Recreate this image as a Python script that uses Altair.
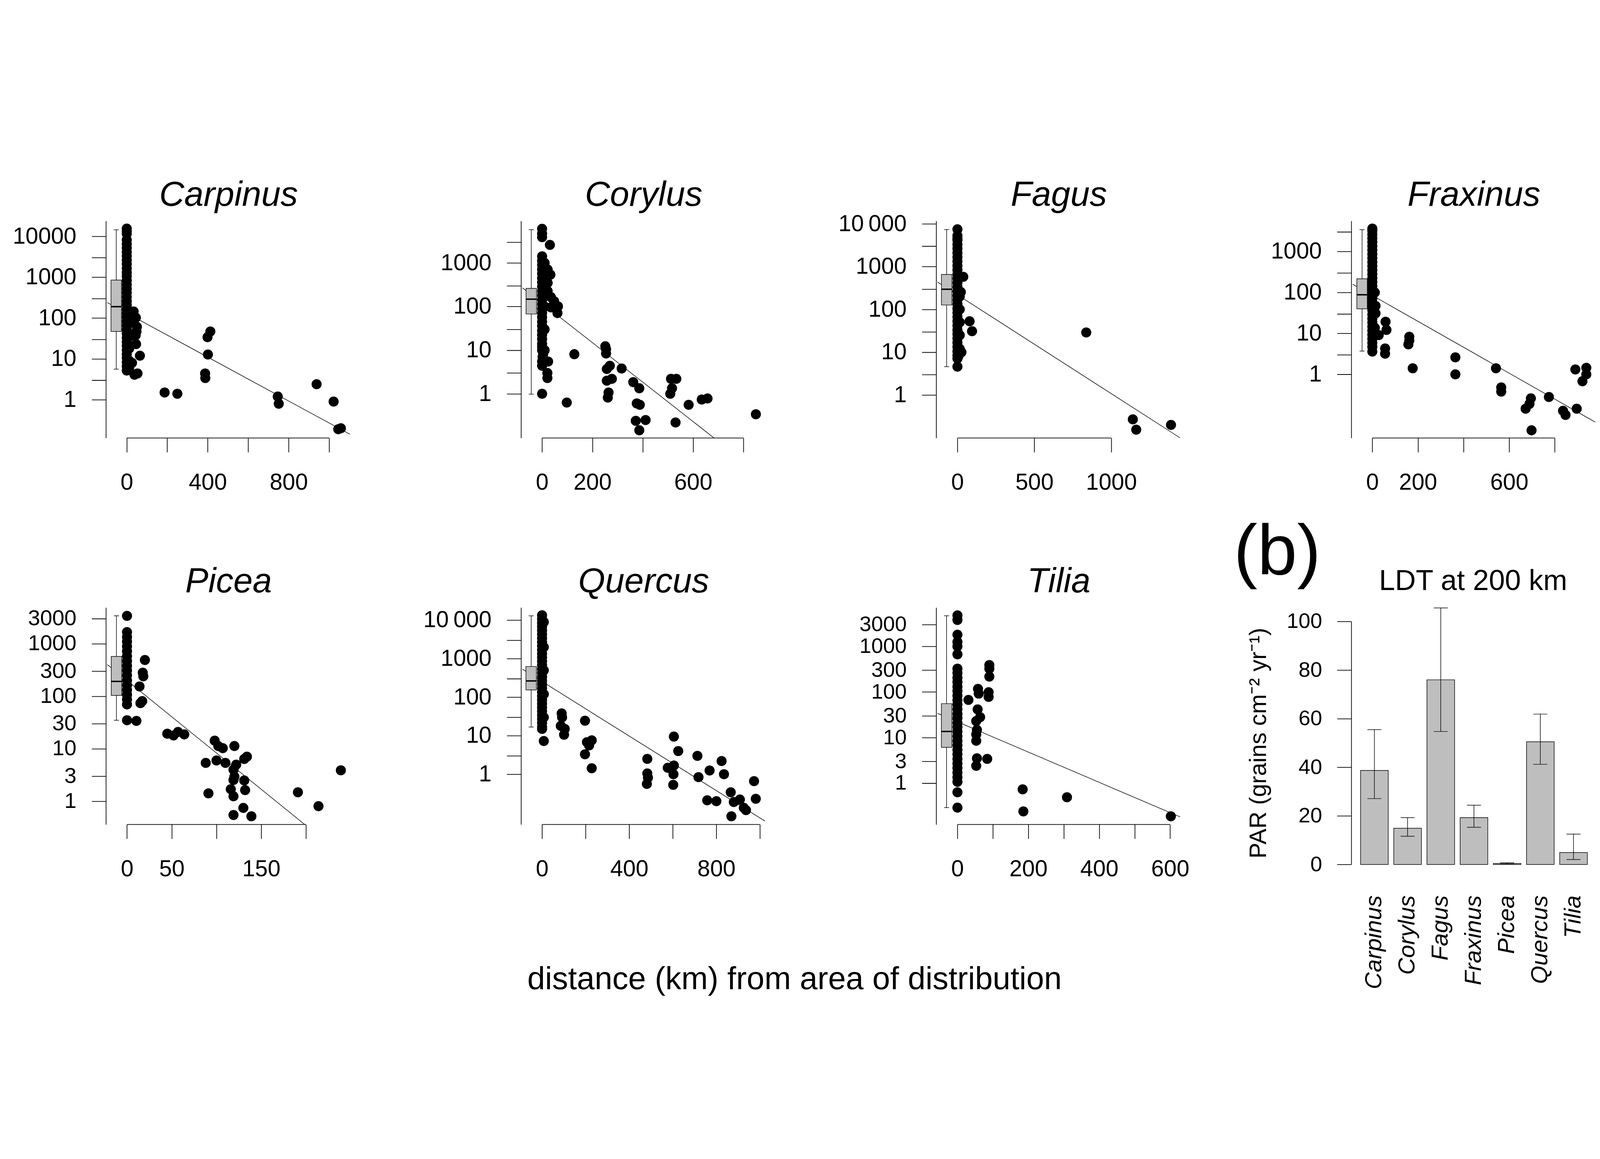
import altair as alt
import pandas as pd

FONT = "Liberation Sans"

taxa = ["Carpinus", "Corylus", "Fagus", "Fraxinus", "Picea", "Quercus", "Tilia"]

# ---------------- (a) scatter data: (distance km, PAR) ----------------
carpinus_pts = [
    (0, 15500), (0, 13300), (0, 11600), (0, 8200), (0, 6500), (0, 5200), (0, 4100), (0, 3300),
    (0, 2600), (0, 2100), (0, 1650), (0, 1300), (0, 1050), (0, 830), (0, 660), (0, 520), (0, 420),
    (0, 330), (0, 260), (0, 210), (0, 165), (0, 130), (0, 105), (0, 83), (0, 66), (0, 52), (0, 42),
    (0, 33), (0, 26), (0, 21), (0, 16.5), (0, 13), (0, 10.5), (0, 8.3), (0, 6.6), (0, 5.2),
    (12, 150), (12, 75), (12, 35), (12, 18), (12, 9), (12, 6),
    (34, 145), (45, 102), (50, 61), (48, 47), (44, 38), (46, 23), (65, 12), (53, 4.4), (38, 4.1), (26, 8),
    (187, 1.5), (250, 1.4), (413, 47), (399, 34), (401, 12.8), (387, 4.4), (388, 3.4), (746, 1.2),
    (751, 0.8), (938, 2.4), (1022, 0.9), (1045, 0.19), (1058, 0.2)]

corylus_pts = [
    (0, 6100), (0, 4700), (0, 3900), (0, 1420), (0, 1130), (0, 900), (0, 710), (0, 570), (0, 450),
    (0, 360), (0, 285), (0, 225), (0, 180), (0, 143), (0, 113), (0, 90), (0, 71), (0, 57), (0, 45),
    (0, 36), (0, 28), (0, 22.5), (0, 18), (0, 14), (0, 12), (0, 10), (2, 7), (0, 5.5), (0, 4.4), (0, 1.0),
    (10, 1000), (10, 300), (10, 100), (10, 30), (10, 10),
    (4, 8), (31, 2600), (22, 710), (33, 540), (22, 350), (22, 227), (35, 165), (48, 132), (63, 101),
    (35, 96), (61, 71), (24, 5.5), (21, 3.0), (21, 2.3),
    (128, 8.1), (98, 0.63), (251, 12.3), (254, 10.5), (254, 8.4), (269, 4.4), (257, 3.7), (277, 2.2),
    (257, 2.0), (264, 1.07), (261, 0.82), (316, 3.8), (362, 1.85), (386, 1.34), (376, 0.6), (388, 0.56),
    (372, 0.24), (411, 0.25), (386, 0.146), (512, 2.2), (533, 2.2), (516, 1.34), (509, 1.0), (530, 0.22),
    (582, 0.56), (634, 0.74), (657, 0.78), (849, 0.34)]

fagus_pts = [
    (0, 7500), (0, 5300), (0, 4500), (0, 4200), (0, 3300), (0, 2650), (0, 2100), (0, 1670), (0, 1330),
    (0, 1050), (0, 840), (0, 665), (0, 530), (0, 420), (0, 335), (0, 265), (0, 210), (0, 167), (0, 133),
    (0, 105), (0, 84), (0, 67), (0, 53), (0, 42), (0, 33), (0, 26.5), (0, 21), (0, 16.7), (0, 13.3),
    (0, 10.5), (0, 8.4), (0, 7.1), (0, 4.6),
    (15, 200), (15, 100), (15, 50), (15, 25), (15, 12),
    (38, 580), (22, 255), (79, 53), (95, 31), (26, 10), (6, 8),
    (837, 29), (1140, 0.27), (1162, 0.155), (1388, 0.2)]

fraxinus_pts = [
    (0, 3630), (0, 3200), (0, 2600), (0, 2100), (0, 1700), (0, 1350), (0, 1080), (0, 860), (0, 690),
    (0, 550), (0, 440), (0, 350), (0, 280), (0, 225), (0, 180), (0, 143), (0, 115), (0, 90), (0, 72),
    (0, 58), (0, 46), (0, 37), (0, 29), (0, 23), (0, 18.5), (0, 14.7), (0, 11.7), (0, 9.3), (0, 7.4),
    (0, 5.9), (0, 4.7), (0, 3.6),
    (11, 100), (14, 47), (14, 31), (11, 13.7), (28, 9.1), (58, 19.3), (62, 12.2), (56, 4.3), (56, 3.2),
    (162, 8.3), (162, 6.7), (158, 5.4), (177, 1.41), (364, 2.6), (364, 1.0), (542, 1.41), (565, 0.48),
    (565, 0.38), (695, 0.26), (689, 0.19), (672, 0.145), (698, 0.043), (774, 0.28), (836, 0.129),
    (847, 0.102), (896, 0.145), (890, 1.32), (938, 1.45), (938, 1.0), (921, 0.68)]

picea_pts = [
    (0, 3400), (0, 1670), (0, 1350), (0, 1100), (0, 890), (0, 720), (0, 580), (0, 470), (0, 380),
    (0, 310), (0, 250), (0, 200), (0, 163), (0, 132), (0, 107), (0, 87), (0, 70), (0, 35),
    (10.5, 34), (20, 490), (17.6, 281), (18.2, 240), (14, 154), (17, 81), (15, 74),
    (45, 19.4), (52, 18), (57, 21), (64, 18.8), (98, 14.3), (102, 11.3), (107, 10.3), (120, 11.3),
    (88, 5.4), (100, 6.0), (110, 5.4), (122, 5.0), (119, 4.0), (120, 2.95), (119, 2.55), (131, 6.4),
    (134, 7.1), (131, 2.5), (116, 1.7), (119, 1.25), (132, 1.64), (91, 1.42), (130, 0.75), (119, 0.55),
    (139, 0.52), (191, 1.49), (214, 0.81), (239, 3.9)]

quercus_pts = [
    (0, 13400), (0, 10700), (0, 8500), (0, 6800), (0, 5400), (0, 4300), (0, 3400), (0, 2700), (0, 2150),
    (0, 1700), (0, 1350), (0, 1080), (0, 860), (0, 680), (0, 540), (0, 430), (0, 340), (0, 270), (0, 215),
    (0, 170), (0, 135), (0, 108), (0, 86), (0, 68), (0, 54), (0, 43), (0, 34), (0, 27), (0, 21.5), (0, 17),
    (0, 15),
    (8, 9000), (8, 2000), (8, 500), (8, 120), (8, 30), (8, 7.3),
    (90, 38), (92, 30), (86, 18), (104, 15), (101, 10.6), (197, 24.6), (206, 6.8), (216, 5.6), (228, 7.6),
    (197, 3.3), (228, 1.43), (483, 2.5), (483, 1.05), (486, 0.81), (481, 0.56), (605, 9.5), (625, 4.0),
    (577, 1.47), (605, 1.68), (603, 1.0), (602, 0.53), (713, 3.0), (718, 0.84), (769, 1.25), (824, 2.2),
    (835, 1.0), (758, 0.21), (800, 0.2), (866, 0.34), (880, 0.19), (908, 0.22), (926, 0.134), (936, 0.117),
    (869, 0.081), (973, 0.66), (981, 0.23)]

tilia_pts = [
    (0, 4800), (0, 3800), (0, 1800), (0, 1250), (0, 1000), (0, 670), (0, 324), (0, 260), (0, 205),
    (0, 165), (0, 130), (0, 105), (0, 83), (0, 66), (0, 53), (0, 42), (0, 33), (0, 27), (0, 21), (0, 17),
    (0, 13.5), (0, 10.7), (0, 8.5), (0, 6.8), (0, 5.4), (0, 4.3), (0, 3.4), (0, 2.7), (0, 2.15), (0, 1.7),
    (0, 1.35), (0, 1.07), (0, 0.63), (0, 0.29),
    (31, 67), (58, 117), (60, 92), (57, 41.5), (64, 28), (53, 23), (55, 14.7), (53, 11.7), (53, 8.5),
    (55, 3.5), (53, 2.4), (90, 390), (90, 324), (90, 218), (88, 99), (88, 78), (84, 3.4),
    (184, 0.73), (186, 0.24), (309, 0.49), (602, 0.187)]

points = [carpinus_pts, corylus_pts, fagus_pts, fraxinus_pts, picea_pts, quercus_pts, tilia_pts]

# boxplot stats: position (km), whisker low, q1, median, q3, whisker high
box_km = [-52, -43, -70, -45, -11.8, -50, -30.6]
box_wlo = [5.6, 0.98, 4.6, 3.7, 35, 16.8, 0.29]
box_q1 = [47, 67.6, 127, 40, 104, 155, 6.1]
box_med = [190, 148, 297, 88, 192, 265, 13.6]
box_q3 = [850, 262, 660, 216, 573, 630, 55.5]
box_whi = [14500, 5800, 7400, 3430, 3400, 13000, 4700]

# regression log10(PAR) = a + b * km
fit_a = [2.12, 2.077, 2.342, 1.928, 2.30, 2.409, 1.345]
fit_b = [-0.00269, -0.004526, -0.00231, -0.003166, -0.0138, -0.003544, -0.003321]

# plot extents
x_domains = [[-96, 1102], [-78, 885], [-129, 1447], [-86, 977], [-22, 249], [-90, 1023], [-56, 628]]
y_domains = [[0.1155, 23770], [0.0968, 9170], [0.0989, 11670], [0.0279, 5560],
             [0.3625, 4890], [0.0494, 21340], [0.1236, 7120]]

x_ticks = [[0, 200, 400, 600, 800, 1000], [0, 200, 400, 600, 800], [0, 500, 1000],
           [0, 200, 400, 600, 800], [0, 50, 100, 150, 200], [0, 200, 400, 600, 800, 1000],
           [0, 100, 200, 300, 400, 500, 600]]
x_labels = [["0", "", "400", "", "800", ""], ["0", "200", "", "600", ""], ["0", "500", "1000"],
            ["0", "200", "", "600", ""], ["0", "50", "", "150", ""], ["0", "", "400", "", "800", ""],
            ["0", "", "200", "", "400", "", "600"]]
y_ticks = [[1, 3, 10, 30, 100, 300, 1000, 3000, 10000], [1, 3, 10, 30, 100, 300, 1000, 3000],
           [1, 3, 10, 30, 100, 300, 1000, 3000, 10000], [1, 3, 10, 30, 100, 300, 1000, 3000],
           [1, 3, 10, 30, 100, 300, 1000, 3000], [1, 3, 10, 30, 100, 300, 1000, 3000, 10000],
           [1, 3, 10, 30, 100, 300, 1000, 3000]]
y_labels = [["1", "", "10", "", "100", "", "1000", "", "10000"],
            ["1", "", "10", "", "100", "", "1000", ""],
            ["1", "", "10", "", "100", "", "1000", "", "10\u2009000"],
            ["1", "", "10", "", "100", "", "1000", ""],
            ["1", "3", "10", "30", "100", "300", "1000", "3000"],
            ["1", "", "10", "", "100", "", "1000", "", "10\u2009000"],
            ["1", "3", "10", "30", "100", "300", "1000", "3000"]]
y_label_size = [82, 82, 82, 82, 78, 82, 76]

# ---------------- (b) bar data ----------------
par_mean = [38.7, 14.9, 76.0, 19.3, 0.4, 50.5, 4.9]
par_lo = [27.1, 11.6, 54.7, 15.3, 0.1, 41.2, 2.0]
par_hi = [55.5, 19.3, 105.6, 24.4, 0.7, 61.9, 12.5]

W, H = 878, 777
BOXW = 37.5
GREY = "#BEBEBE"


def label_expr(vals, texts):
    expr = "''"
    for v, t in reversed(list(zip(vals, texts))):
        expr = f"datum.value == {v} ? '{t}' : {expr}"
    return expr


def scatter(i, extra_text=None):
    name = taxa[i]
    df = pd.DataFrame(points[i], columns=["km", "par"])
    xdom, ydom = x_domains[i], y_domains[i]
    xs = alt.Scale(domain=xdom, nice=False, zero=False)
    ys = alt.Scale(type="log", domain=ydom, nice=False)
    xax = alt.Axis(values=x_ticks[i], labelExpr=label_expr(x_ticks[i], x_labels[i]), domain=False,
                   grid=False, tickSize=51, tickWidth=2.5, labelFontSize=82, labelPadding=69,
                   labelFlush=False, labelOverlap=False, labelLimit=2000)
    yax = alt.Axis(values=y_ticks[i], labelExpr=label_expr(y_ticks[i], y_labels[i]), grid=False,
                   tickSize=51, tickWidth=2.5, domainWidth=2.5, labelFontSize=y_label_size[i],
                   labelPadding=55, labelFlush=False, labelOverlap=False, labelBaseline="middle",
                   labelLimit=2000)

    line_df = pd.DataFrame({"km": xdom,
                            "par": [10 ** (fit_a[i] + fit_b[i] * x) for x in xdom]})
    box_df = pd.DataFrame({"km": [box_km[i]], "lo": [box_wlo[i]], "q1": [box_q1[i]],
                           "med": [box_med[i]], "q3": [box_q3[i]], "hi": [box_whi[i]]})
    cap_df = pd.DataFrame({"km": [box_km[i], box_km[i]], "v": [box_wlo[i], box_whi[i]]})
    axis_df = pd.DataFrame({"x0": [x_ticks[i][0]], "x1": [x_ticks[i][-1]], "yb": [ydom[0]]})

    line = alt.Chart(line_df).mark_line(color="black", strokeWidth=2, clip=True).encode(
        x="km:Q", y="par:Q")
    whisk = alt.Chart(box_df).mark_rule(color="black", strokeWidth=2).encode(
        x="km:Q", y="lo:Q", y2="hi:Q")
    caps = alt.Chart(cap_df).mark_tick(orient="horizontal", size=18, thickness=2, color="black",
                                       opacity=1).encode(x="km:Q", y="v:Q")
    box = alt.Chart(box_df).mark_bar(orient="vertical", size=BOXW, fill=GREY, stroke="black",
                                     strokeWidth=2, opacity=1).encode(x="km:Q", y="q1:Q", y2="q3:Q")
    med = alt.Chart(box_df).mark_tick(orient="horizontal", size=BOXW, thickness=5, color="black",
                                      opacity=1).encode(x="km:Q", y="med:Q")
    pts = alt.Chart(df).mark_circle(size=1300, color="black", opacity=1).encode(
        x=alt.X("km:Q", scale=xs, axis=xax, title=None),
        y=alt.Y("par:Q", scale=ys, axis=yax, title=None))
    xline = alt.Chart(axis_df).mark_rule(color="black", strokeWidth=2.5).encode(
        x="x0:Q", x2="x1:Q", y="yb:Q")
    title = alt.Chart(pd.DataFrame({"t": [name]})).mark_text(
        font=FONT, fontSize=124, fontStyle="italic", align="center", baseline="alphabetic",
        color="black").encode(text="t:N", x=alt.value(W / 2), y=alt.value(-54))
    layers = [line, whisk, caps, box, med, pts, xline, title]
    if extra_text is not None:
        layers.append(extra_text)
    return alt.layer(*layers).properties(width=W, height=H)


bottom_title = alt.Chart(pd.DataFrame({"t": ["distance (km) from area of distribution"]})).mark_text(
    font=FONT, fontSize=114, align="center", baseline="alphabetic", color="black").encode(
    text="t:N", x=alt.value(979), y=alt.value(1366))

panels = [scatter(i, bottom_title if i == 5 else None) for i in range(7)]

# ---------------- bar chart ----------------
BH = 920
bar_df = pd.DataFrame({"taxon": taxa, "par": par_mean, "lo": par_lo, "hi": par_hi})
bx = alt.X("taxon:N", sort=taxa, title=None,
           scale=alt.Scale(paddingInner=0.167, paddingOuter=0.279),
           axis=alt.Axis(labelAngle=270, labelAlign="right", labelBaseline="middle",
                         labelFontStyle="italic", labelFontSize=84, labelPadding=110, ticks=False,
                         tickSize=0, domain=False, grid=False, labelOverlap=False, labelLimit=2000))
by = alt.Y("par:Q", title="PAR (grains cm\u207b\u00b2 yr\u207b\u00b9)",
           scale=alt.Scale(domain=[0, 100], range=[BH, 50], nice=False),
           axis=alt.Axis(values=[0, 20, 40, 60, 80, 100], tickSize=51, tickWidth=2.5, domainWidth=2.5,
                         labelFontSize=76, labelPadding=54, titleFontSize=85, titleFontWeight="normal",
                         titlePadding=88, grid=False, labelFlush=False, labelLimit=2000,
                         titleLimit=3000))
bars = alt.Chart(bar_df).mark_bar(fill=GREY, stroke="black", strokeWidth=2, opacity=1).encode(x=bx, y=by)
err = alt.Chart(bar_df).mark_rule(color="black", strokeWidth=2).encode(
    x=alt.X("taxon:N", sort=taxa), y="lo:Q", y2="hi:Q")
cap_lo = alt.Chart(bar_df).mark_tick(orient="horizontal", size=50, thickness=2, color="black",
                                     opacity=1).encode(x=alt.X("taxon:N", sort=taxa), y="lo:Q")
cap_hi = alt.Chart(bar_df).mark_tick(orient="horizontal", size=50, thickness=2, color="black",
                                     opacity=1).encode(x=alt.X("taxon:N", sort=taxa), y="hi:Q")
b_label = alt.Chart(pd.DataFrame({"t": ["(b)"]})).mark_text(
    font=FONT, fontSize=255, align="left", baseline="alphabetic", color="black").encode(
    text="t:N", x=alt.value(-421), y=alt.value(-118))
b_title = alt.Chart(pd.DataFrame({"t": ["LDT at 200 km"]})).mark_text(
    font=FONT, fontSize=103, align="center", baseline="alphabetic", color="black").encode(
    text="t:N", x=alt.value(436), y=alt.value(-63))
bar_chart = alt.layer(bars, err, cap_lo, cap_hi, b_label, b_title).properties(width=W, height=BH)

chart = alt.concat(*panels, bar_chart, columns=4, spacing={"row": 607, "column": 608},
                   bounds="flush", align="each").properties(
    padding={"left": 33, "top": 36, "right": 0, "bottom": 0}
).configure(font=FONT).configure_view(stroke="transparent").configure_axis(
    domainColor="black", tickColor="black", labelColor="black", titleColor="black",
    labelFont=FONT, titleFont=FONT, labelLimit=2000)

chart.save("out.html", embed_options={"renderer": "svg", "actions": False})
